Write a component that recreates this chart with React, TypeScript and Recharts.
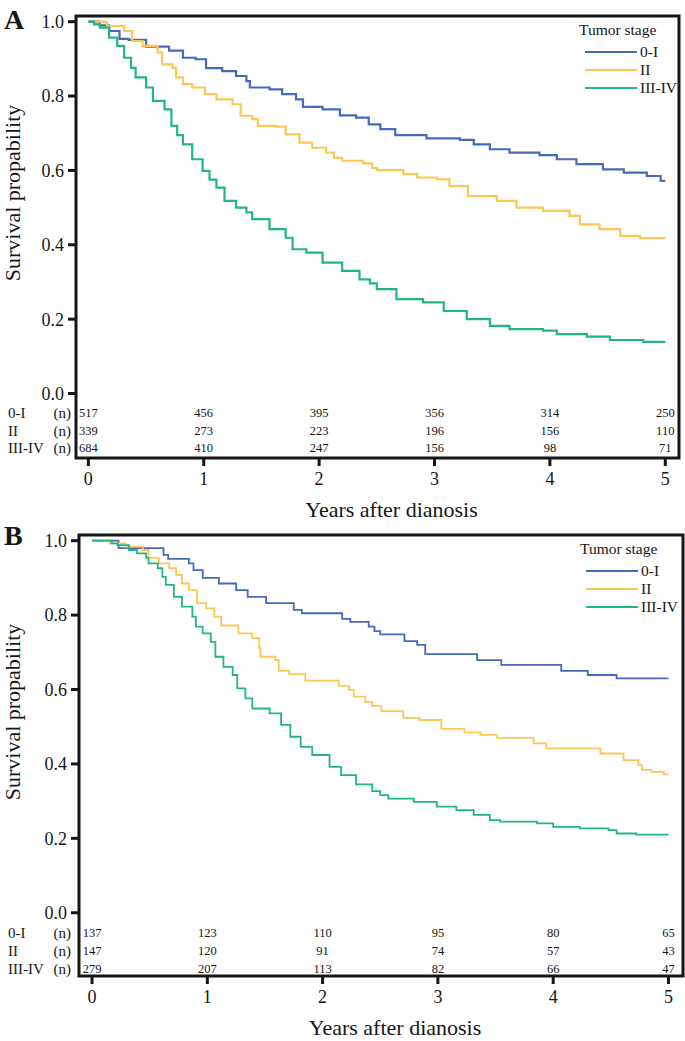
import React from "react";
import {
  LineChart,
  Line,
  XAxis,
  YAxis,
  ReferenceArea,
  ReferenceDot,
  Legend,
} from "recharts";

const FONT = '"Liberation Serif", "Times New Roman", Times, serif';
const INK = "#161616";

const STAGES = ["0-I", "II", "III-IV"];
const STAGE_COLORS = ["#4569be", "#fdc655", "#22b686"];
const YEAR_TICKS = [0, 1, 2, 3, 4, 5];
const SURV_TICKS = [0, 0.2, 0.4, 0.6, 0.8, 1.0];

type Pt = [number, number];

// panel A: [years, survival]
const A_STAGE_0_I: Pt[] = [
  [0, 1], [0.1, 0.99], [0.18, 0.975], [0.27, 0.954], [0.35, 0.951], [0.5, 0.933],
  [0.7, 0.922], [0.82, 0.903], [0.93, 0.899], [1.02, 0.875], [1.16, 0.867],
  [1.28, 0.854], [1.37, 0.84], [1.4, 0.823], [1.57, 0.818], [1.68, 0.805],
  [1.8, 0.791], [1.86, 0.771], [2.03, 0.764], [2.18, 0.748], [2.32, 0.742],
  [2.43, 0.724], [2.53, 0.711], [2.66, 0.695], [2.93, 0.686], [3.22, 0.682],
  [3.34, 0.67], [3.48, 0.657], [3.65, 0.648], [3.91, 0.641], [4.06, 0.63],
  [4.23, 0.617], [4.46, 0.603], [4.64, 0.594], [4.84, 0.585], [4.96, 0.572], [5, 0.572],
];
const A_STAGE_II: Pt[] = [
  [0, 1], [0.16, 0.988], [0.31, 0.975], [0.38, 0.948], [0.47, 0.935], [0.6, 0.917],
  [0.64, 0.885], [0.73, 0.876], [0.76, 0.85], [0.82, 0.832], [0.9, 0.823],
  [1.01, 0.805], [1.11, 0.791], [1.25, 0.778], [1.32, 0.747], [1.42, 0.738],
  [1.47, 0.72], [1.63, 0.718], [1.71, 0.697], [1.83, 0.675], [1.94, 0.661],
  [2.06, 0.648], [2.13, 0.634], [2.2, 0.626], [2.38, 0.619], [2.46, 0.606],
  [2.5, 0.601], [2.73, 0.59], [2.85, 0.581], [3.02, 0.576], [3.13, 0.558],
  [3.29, 0.531], [3.54, 0.518], [3.71, 0.5], [3.94, 0.491], [4.17, 0.478],
  [4.26, 0.455], [4.43, 0.442], [4.61, 0.424], [4.78, 0.418], [5, 0.418],
];
const A_STAGE_III_IV: Pt[] = [
  [0, 1], [0.05, 0.993], [0.1, 0.984], [0.18, 0.957], [0.25, 0.935], [0.31, 0.903],
  [0.37, 0.876], [0.41, 0.85], [0.5, 0.823], [0.56, 0.787], [0.66, 0.764],
  [0.72, 0.72], [0.77, 0.695], [0.82, 0.67], [0.9, 0.63], [0.99, 0.599],
  [1.05, 0.575], [1.11, 0.554], [1.18, 0.518], [1.28, 0.5], [1.37, 0.487],
  [1.42, 0.469], [1.57, 0.442], [1.71, 0.419], [1.77, 0.388], [1.89, 0.379],
  [2.03, 0.352], [2.2, 0.33], [2.35, 0.307], [2.44, 0.296], [2.5, 0.281],
  [2.67, 0.254], [2.9, 0.245], [3.08, 0.222], [3.28, 0.2], [3.48, 0.182],
  [3.65, 0.173], [3.94, 0.169], [4.06, 0.16], [4.32, 0.153], [4.52, 0.144],
  [4.81, 0.139], [5, 0.139],
];

// panel B
const B_STAGE_0_I: Pt[] = [
  [0, 1], [0.23, 0.98], [0.62, 0.962], [0.66, 0.951], [0.84, 0.939], [0.88, 0.921],
  [0.96, 0.9], [1.1, 0.885], [1.25, 0.867], [1.35, 0.849], [1.51, 0.832],
  [1.75, 0.814], [1.82, 0.805], [2.17, 0.79], [2.24, 0.782], [2.4, 0.769],
  [2.45, 0.757], [2.5, 0.748], [2.71, 0.73], [2.82, 0.72], [2.89, 0.695],
  [3.34, 0.679], [3.55, 0.666], [4.07, 0.65], [4.3, 0.639], [4.55, 0.63], [5, 0.63],
];
const B_STAGE_II: Pt[] = [
  [0, 1], [0.15, 0.993], [0.29, 0.984], [0.44, 0.975], [0.49, 0.954], [0.58, 0.939],
  [0.67, 0.926], [0.73, 0.908], [0.78, 0.885], [0.84, 0.867], [0.91, 0.832],
  [0.99, 0.818], [1.06, 0.796], [1.12, 0.772], [1.27, 0.751], [1.39, 0.738],
  [1.45, 0.711], [1.46, 0.688], [1.59, 0.679], [1.62, 0.65], [1.71, 0.641],
  [1.85, 0.624], [2.14, 0.61], [2.23, 0.599], [2.27, 0.581], [2.37, 0.567],
  [2.43, 0.556], [2.51, 0.542], [2.7, 0.524], [2.84, 0.518], [3.03, 0.494],
  [3.23, 0.485], [3.37, 0.478], [3.51, 0.47], [3.83, 0.455], [3.94, 0.442],
  [4.41, 0.428], [4.61, 0.41], [4.74, 0.397], [4.77, 0.384], [4.85, 0.379],
  [4.96, 0.372], [5, 0.372],
];
const B_STAGE_III_IV: Pt[] = [
  [0, 1], [0.17, 0.993], [0.22, 0.988], [0.32, 0.975], [0.39, 0.966], [0.47, 0.954],
  [0.49, 0.939], [0.57, 0.926], [0.61, 0.903], [0.64, 0.881], [0.71, 0.849],
  [0.78, 0.823], [0.87, 0.796], [0.9, 0.769], [0.96, 0.751], [1.03, 0.728],
  [1.07, 0.688], [1.14, 0.661], [1.22, 0.639], [1.26, 0.603], [1.33, 0.576],
  [1.39, 0.549], [1.54, 0.536], [1.64, 0.505], [1.72, 0.473], [1.81, 0.446],
  [1.91, 0.424], [2.06, 0.392], [2.16, 0.37], [2.29, 0.345], [2.43, 0.327],
  [2.5, 0.316], [2.57, 0.307], [2.79, 0.298], [2.99, 0.285], [3.16, 0.276],
  [3.31, 0.263], [3.45, 0.249], [3.54, 0.245], [3.86, 0.24], [4.0, 0.231],
  [4.23, 0.227], [4.48, 0.222], [4.55, 0.213], [4.72, 0.21], [5, 0.21],
];

// numbers at risk at years 0..5
const A_RISK_0_I = [517, 456, 395, 356, 314, 250];
const A_RISK_II = [339, 273, 223, 196, 156, 110];
const A_RISK_III_IV = [684, 410, 247, 156, 98, 71];
const B_RISK_0_I = [137, 123, 110, 95, 80, 65];
const B_RISK_II = [147, 120, 91, 74, 57, 43];
const B_RISK_III_IV = [279, 207, 113, 82, 66, 47];

function StageLegend({ payload }: any) {
  return (
    <div style={{ fontFamily: FONT, color: INK, fontSize: 15.5 }}>
      <div style={{ lineHeight: "18px", marginBottom: 4 }}>Tumor stage</div>
      {(payload || []).map((p: any) => (
        <div
          key={p.value}
          style={{ display: "flex", alignItems: "center", height: 18, marginLeft: 6 }}
        >
          <span
            style={{
              display: "inline-block",
              width: 52,
              borderTop: `2.5px solid ${p.color}`,
              marginRight: 3,
            }}
          />
          <span style={{ lineHeight: "18px" }}>{p.value}</span>
        </div>
      ))}
    </div>
  );
}

function KMPanel(props: any) {
  const {
    letter, curves, risk, top, height, margin, xAxisHeight, yAxisWidth,
    xDomain, yDomain, rowY, legendPos, strokeWidth, letterTop,
  } = props;
  return (
    <div style={{ position: "absolute", left: 0, top, width: 685, height }}>
      <div
        style={{
          position: "absolute",
          left: 4,
          top: letterTop,
          fontFamily: FONT,
          fontWeight: 700,
          fontSize: 28,
          lineHeight: "28px",
          color: INK,
          zIndex: 2,
        }}
      >
        {letter}
      </div>
      <LineChart width={685} height={height} margin={margin}>
        <XAxis
          type="number"
          dataKey="t"
          domain={xDomain}
          ticks={YEAR_TICKS}
          interval={0}
          allowDataOverflow
          height={xAxisHeight}
          axisLine={false}
          tickLine={{ stroke: INK, strokeWidth: 3 }}
          tickSize={8}
          tickMargin={6}
          tick={{ fontSize: 18, fill: INK, fontFamily: FONT }}
          label={(p: any) => (
            <text
              x={p.viewBox.x + p.viewBox.width / 2 + 14}
              y={p.viewBox.y + 58.5}
              textAnchor="middle"
              fontSize={22}
              fontFamily={FONT}
              fill={INK}
            >
              Years after dianosis
            </text>
          )}
        />
        <YAxis
          type="number"
          domain={yDomain}
          ticks={SURV_TICKS}
          interval={0}
          allowDataOverflow
          width={yAxisWidth}
          axisLine={false}
          tickLine={{ stroke: INK, strokeWidth: 3 }}
          tickSize={8}
          tickMargin={4}
          tickFormatter={(v: number) => v.toFixed(1)}
          tick={{ fontSize: 18, fill: INK, fontFamily: FONT }}
          label={(p: any) => {
            const cx = 20;
            const cy = p.viewBox.y + 177;
            return (
              <text
                x={cx}
                y={cy}
                transform={`rotate(-90, ${cx}, ${cy})`}
                textAnchor="middle"
                fontSize={22}
                fontFamily={FONT}
                fill={INK}
              >
                Survival propability
              </text>
            );
          }}
        />
        {curves.map((c: Pt[], i: number) => (
          <Line
            key={STAGES[i]}
            data={c.map(([t, s]) => ({ t, s }))}
            dataKey="s"
            name={STAGES[i]}
            type="stepAfter"
            stroke={STAGE_COLORS[i]}
            strokeWidth={strokeWidth}
            dot={false}
            activeDot={false}
            isAnimationActive={false}
          />
        ))}
        {risk.map((row: number[], r: number) => (
          <ReferenceDot
            key={`lab-${r}`}
            x={xDomain[0]}
            y={rowY[r]}
            r={0}
            ifOverflow="visible"
            label={(p: any) => (
              <g fontFamily={FONT} fontSize={15} fill={INK}>
                <text x={8} y={p.viewBox.y} dominantBaseline="central">
                  {STAGES[r]}
                </text>
                <text x={71} y={p.viewBox.y} textAnchor="end" dominantBaseline="central">
                  (n)
                </text>
              </g>
            )}
          />
        ))}
        {risk.map((row: number[], r: number) =>
          row.map((n: number, i: number) => (
            <ReferenceDot
              key={`n-${r}-${i}`}
              x={YEAR_TICKS[i]}
              y={rowY[r]}
              r={0}
              ifOverflow="visible"
              label={(p: any) => (
                <text
                  x={p.viewBox.x}
                  y={p.viewBox.y}
                  textAnchor="middle"
                  dominantBaseline="central"
                  fontSize={12.5}
                  fontFamily={FONT}
                  fill={INK}
                >
                  {n}
                </text>
              )}
            />
          ))
        )}
        <ReferenceArea
          x1={xDomain[0]}
          x2={xDomain[1]}
          y1={yDomain[0]}
          y2={yDomain[1]}
          fill="none"
          stroke={INK}
          strokeWidth={3}
          ifOverflow="visible"
        />
        <Legend
          layout="vertical"
          align="center"
          verticalAlign="middle"
          wrapperStyle={{ left: legendPos.left, top: legendPos.top, width: 110 }}
          content={(p: any) => <StageLegend payload={p.payload} />}
        />
      </LineChart>
    </div>
  );
}

export default function App() {
  return (
    <div
      style={{
        position: "absolute",
        left: 0,
        top: 0,
        width: 685,
        height: 1041,
        background: "#fff",
        overflow: "hidden",
      }}
    >
      <KMPanel
        letter="A"
        letterTop={6}
        curves={[A_STAGE_0_I, A_STAGE_II, A_STAGE_III_IV]}
        risk={[A_RISK_0_I, A_RISK_II, A_RISK_III_IV]}
        top={0}
        height={520}
        margin={{ top: 16, right: 6, bottom: 2, left: 0 }}
        xAxisHeight={60}
        yAxisWidth={76}
        xDomain={[-0.107, 5.119]}
        yDomain={[-0.1734, 1.0153]}
        rowY={[-0.053, -0.1, -0.147]}
        legendPos={{ left: 579, top: 21 }}
        strokeWidth={2.2}
      />
      <KMPanel
        letter="B"
        letterTop={2}
        curves={[B_STAGE_0_I, B_STAGE_II, B_STAGE_III_IV]}
        risk={[B_RISK_0_I, B_RISK_II, B_RISK_III_IV]}
        top={520}
        height={521}
        margin={{ top: 15, right: 2, bottom: 2, left: 0 }}
        xAxisHeight={63}
        yAxisWidth={79}
        xDomain={[-0.113, 5.126]}
        yDomain={[-0.17, 1.0153]}
        rowY={[-0.055, -0.103, -0.15]}
        legendPos={{ left: 580, top: 19.5 }}
        strokeWidth={1.8}
      />
    </div>
  );
}
